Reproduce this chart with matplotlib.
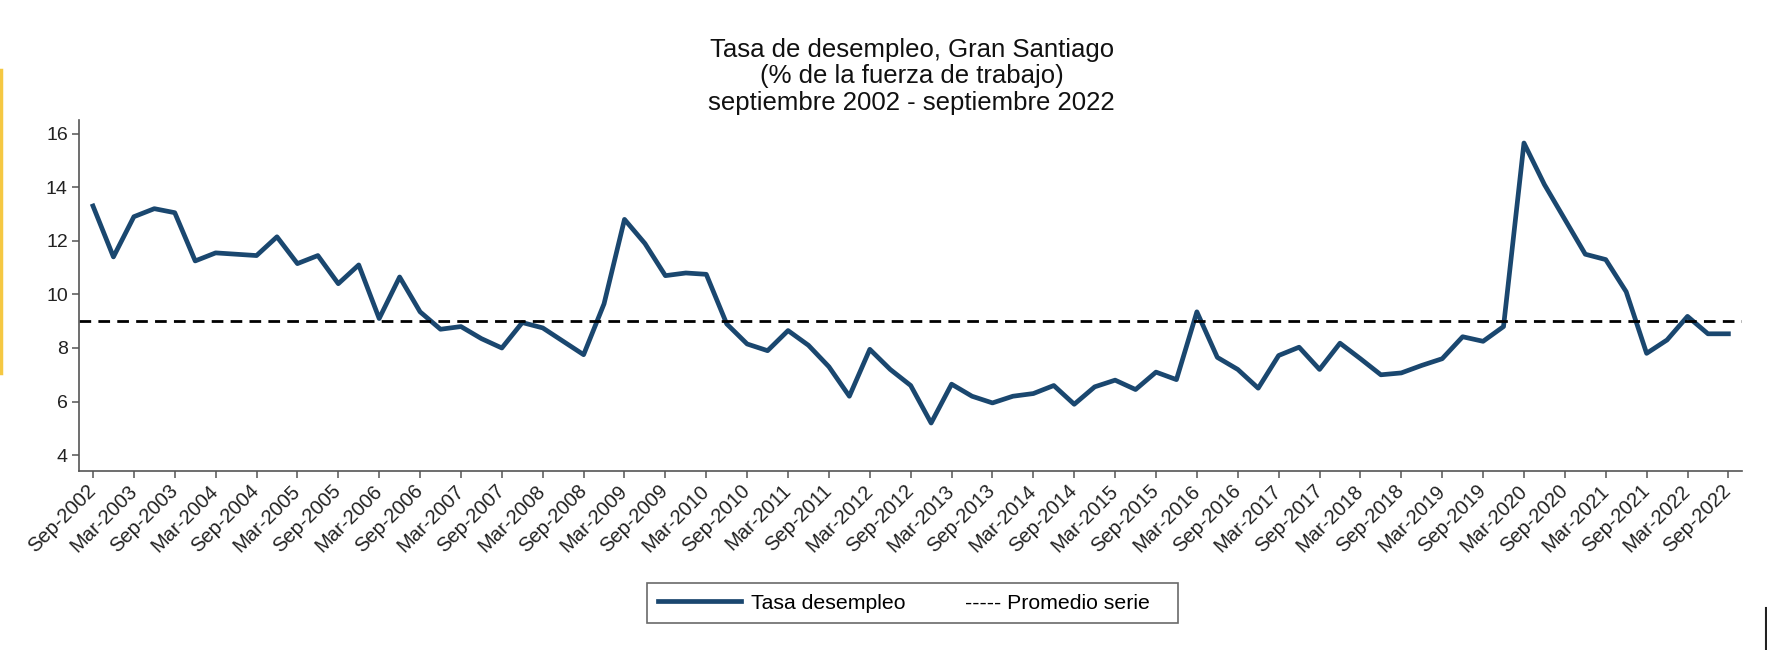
import matplotlib
matplotlib.use("Agg")
import matplotlib.pyplot as plt
from matplotlib.lines import Line2D

plt.rcParams["font.family"] = ["Liberation Sans", "DejaVu Sans"]

# quarterly unemployment rate, Gran Santiago, Sep-2002 .. Sep-2022
TASA = [
    13.3, 11.4, 12.9, 13.2, 13.05, 11.25, 11.55, 11.5, 11.45, 12.15,
    11.15, 11.45, 10.4, 11.1, 9.1, 10.65, 9.35, 8.7, 8.8, 8.35,
    8.0, 8.95, 8.75, 8.25, 7.75, 9.65, 12.8, 11.9, 10.7, 10.8,
    10.75, 8.9, 8.15, 7.9, 8.65, 8.1, 7.3, 6.2, 7.95, 7.2,
    6.6, 5.2, 6.65, 6.2, 5.95, 6.2, 6.3, 6.6, 5.9, 6.55,
    6.8, 6.45, 7.1, 6.82, 9.35, 7.65, 7.2, 6.5, 7.72, 8.03,
    7.2, 8.18, 7.6, 7.0, 7.07, 7.35, 7.6, 8.42, 8.25, 8.8,
    15.65, 14.1, 12.8, 11.5, 11.3, 10.1, 7.8, 8.3, 9.18, 8.53,
    8.53,
]
PROMEDIO = 9.0

TITLE_LINES = [
    "Tasa de desempleo, Gran Santiago",
    "(% de la fuerza de trabajo)",
    "septiembre 2002 - septiembre 2022",
]
Y_TICKS = [4, 6, 8, 10, 12, 14, 16]
# a label every second quarter: Sep-2002, Mar-2003, ..., Sep-2022
X_TICK_LABELS = [
    f"{'Sep' if k % 2 == 0 else 'Mar'}-{2002 + (k + 1) // 2}" for k in range(41)
]

NAVY = "#1a476f"

fig = plt.figure(figsize=(17.67, 6.5), dpi=100)
ax = fig.add_axes([0.0447, 0.275, 0.9412, 0.54])

x = list(range(len(TASA)))
ax.plot(x, TASA, color=NAVY, lw=3.4)
ax.axhline(PROMEDIO, color="black", lw=2, linestyle=(0, (4.2, 2.6)))

ax.set_xlim(-0.685, 80.67)
ax.set_ylim(3.4, 16.5)

for s in ("top", "right"):
    ax.spines[s].set_visible(False)
for s in ("left", "bottom"):
    ax.spines[s].set_color("#555555")
    ax.spines[s].set_linewidth(1.2)

ax.set_yticks(Y_TICKS)
ax.set_yticklabels([str(v) for v in Y_TICKS])
ax.set_xticks(x[::2])
ax.set_xticklabels(X_TICK_LABELS, rotation=45, ha="right", va="center",
                   rotation_mode="anchor")
ax.tick_params(axis="y", labelsize=14, length=5, width=1.1, color="#555555",
               labelcolor="#222222", pad=3)
ax.tick_params(axis="x", labelsize=14.5, length=5, width=1.1, color="#555555",
               labelcolor="#222222", pad=7)

fig.text(0.516, 0.942, "\n".join(TITLE_LINES), ha="center", va="top",
         fontsize=18.5, linespacing=1.14, color="#111111")

handles = [Line2D([], [], color=NAVY, lw=3.4), Line2D([], [], color="none")]
leg = fig.legend(handles, ["Tasa desempleo", "----- Promedio serie   "],
                 loc="center", bbox_to_anchor=(0.5165, 0.072), ncol=2,
                 fontsize=15.3, frameon=True, fancybox=False,
                 handlelength=3.9, handletextpad=0.5, columnspacing=-1.6,
                 borderpad=0.5)
leg.get_frame().set_edgecolor("#444444")
leg.get_frame().set_linewidth(1.2)

# screenshot edge marks
fig.add_artist(Line2D([0.0008, 0.0008], [1 - 70 / 650, 1 - 373 / 650],
                      color="#f5c842", lw=2.5, transform=fig.transFigure))
fig.add_artist(Line2D([0.9994, 0.9994], [0, 1 - 608 / 650],
                      color="#222222", lw=1.5, transform=fig.transFigure))

fig.savefig("out.png", dpi=100, facecolor="white")
